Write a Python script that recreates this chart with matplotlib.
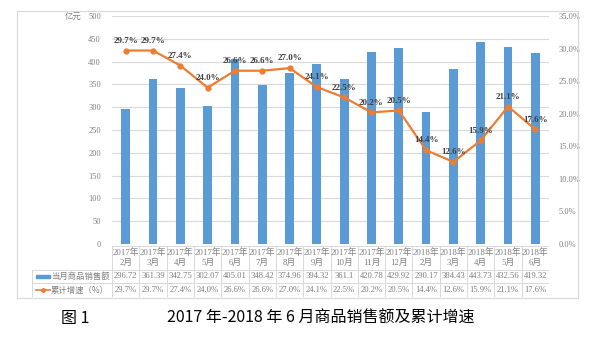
import matplotlib
matplotlib.use("Agg")
from matplotlib import pyplot as plt
from matplotlib.patches import Rectangle
from matplotlib.lines import Line2D

months = ["2017年\n2月", "2017年\n3月", "2017年\n4月", "2017年\n5月", "2017年\n6月",
          "2017年\n7月", "2017年\n8月", "2017年\n9月", "2017年\n10月", "2017年\n11月",
          "2017年\n12月", "2018年\n2月", "2018年\n3月", "2018年\n4月", "2018年\n5月",
          "2018年\n6月"]
sales = [296.72, 361.39, 342.75, 302.07, 405.01, 348.42, 374.96, 394.32, 361.1,
         420.78, 429.92, 290.17, 384.43, 443.73, 432.56, 419.32]
sales_txt = ["296.72", "361.39", "342.75", "302.07", "405.01", "348.42", "374.96", "394.32",
             "361.1", "420.78", "429.92", "290.17", "384.43", "443.73", "432.56", "419.32"]
growth = [29.7, 29.7, 27.4, 24.0, 26.6, 26.6, 27.0, 24.1, 22.5, 20.2, 20.5, 14.4, 12.6,
          15.9, 21.1, 17.6]
bar_name = "当月商品销售额"
line_name = "累计增速（%）"

BLUE = "#5B9BD5"
ORANGE = "#ED7D31"
GRID = "#D9D9D9"
GRAY = "#7F7F7F"
SERIF = ["Liberation Serif", "Noto Sans CJK SC"]
CJK = ["Noto Sans CJK SC", "DejaVu Sans"]

W, H = 603, 341
fig = plt.figure(figsize=(W / 100, H / 100), dpi=100)


def px(x0, y0, x1, y1):
    # pixel box (top-left origin) -> figure fraction rect
    return [x0 / W, 1 - y1 / H, (x1 - x0) / W, (y1 - y0) / H]


# outer chart border
fig.patches.append(Rectangle((17 / W, 1 - 298 / H), (578 - 17) / W, (298 - 11) / H,
                             transform=fig.transFigure, fill=False, ec=GRID, lw=0.8))

n = len(sales)
x = list(range(n))

ax = fig.add_axes(px(112, 16, 549, 244))
ax.bar(x, sales, width=0.32, color=BLUE, zorder=2)
ax.set_xlim(-0.5, n - 0.5)
ax.set_ylim(0, 500)
ax.set_yticks(range(0, 501, 50))
ax.grid(axis="y", color=GRID, lw=0.8, zorder=0)
ax.set_xticks([])
for s in ax.spines.values():
    s.set_visible(False)
ax.tick_params(axis="y", length=0, labelsize=6, labelcolor=GRAY, pad=8)
for t in ax.get_yticklabels():
    t.set_family(SERIF)
ax.text(-0.088, 1.0, "亿元", transform=ax.transAxes, fontsize=6, color=GRAY,
        family=CJK, ha="center", va="center")

ax2 = ax.twinx()
ax2.plot(x, growth, color=ORANGE, lw=1.6, marker="o", ms=3.5, zorder=3)
ax2.set_ylim(0, 35)
ax2.set_yticks(range(0, 36, 5))
ax2.set_yticklabels([f"{v:.1f}%" for v in range(0, 36, 5)], family=SERIF)
ax2.tick_params(axis="y", length=0, labelsize=6, labelcolor=GRAY, pad=7)
for s in ax2.spines.values():
    s.set_visible(False)
for xi, g in zip(x, growth):
    ax2.annotate(f"{g:.1f}%", (xi, g), xytext=(0, 7), textcoords="offset points",
                 ha="center", va="center", fontsize=6.5, fontweight="bold",
                 color="#404040", family=SERIF)

# data table under the plot
tab = fig.add_axes(px(32, 246, 549, 297))
step = (549 - 112) / n
left = -0.5 - (112 - 32) / step
tab.set_xlim(left, n - 0.5)
tab.set_ylim(0, 51)
tab.axis("off")
for i in range(n + 1):
    tab.plot([i - 0.5, i - 0.5], [0, 51], color=GRID, lw=0.7)
tab.plot([left, left], [0, 27], color=GRID, lw=0.7)
tab.plot([-0.5, n - 0.5], [51, 51], color=GRID, lw=0.7)
for yy in (27, 14, 0):
    tab.plot([left, n - 0.5], [yy, yy], color=GRID, lw=0.7)

for i in range(n):
    tab.text(i, 39, months[i], ha="center", va="center", fontsize=6.3, color=GRAY,
             family=SERIF, linespacing=1.3)
    tab.text(i, 20.5, sales_txt[i], ha="center", va="center", fontsize=6.2, color=GRAY,
             family=SERIF)
    tab.text(i, 7, f"{growth[i]:.1f}%", ha="center", va="center", fontsize=6.2,
             color=GRAY, family=SERIF)

u = 1 / step
tab.add_patch(Rectangle((left + 4 * u, 19), 14 * u, 3, color=BLUE))
tab.add_line(Line2D([left + 4 * u, left + 18 * u], [7, 7], color=ORANGE, lw=1.2))
tab.plot([left + 11 * u], [7], marker="o", ms=2.5, color=ORANGE)
tab.text(left + 19 * u, 20.5, bar_name, ha="left", va="center", fontsize=6, color=GRAY,
         family=CJK)
tab.text(left + 19 * u, 7, line_name, ha="left", va="center", fontsize=6, color=GRAY,
         family=CJK)

# caption
fig.text(75 / W, 1 - 318 / H, "图 1", ha="center", va="center", fontsize=11.5,
         family=CJK, color="black")
fig.text(321 / W, 1 - 318 / H, "2017 年-2018 年 6 月商品销售额及累计增速", ha="center",
         va="center", fontsize=11.5, family=CJK, color="black")

fig.savefig("out.png", dpi=100)
